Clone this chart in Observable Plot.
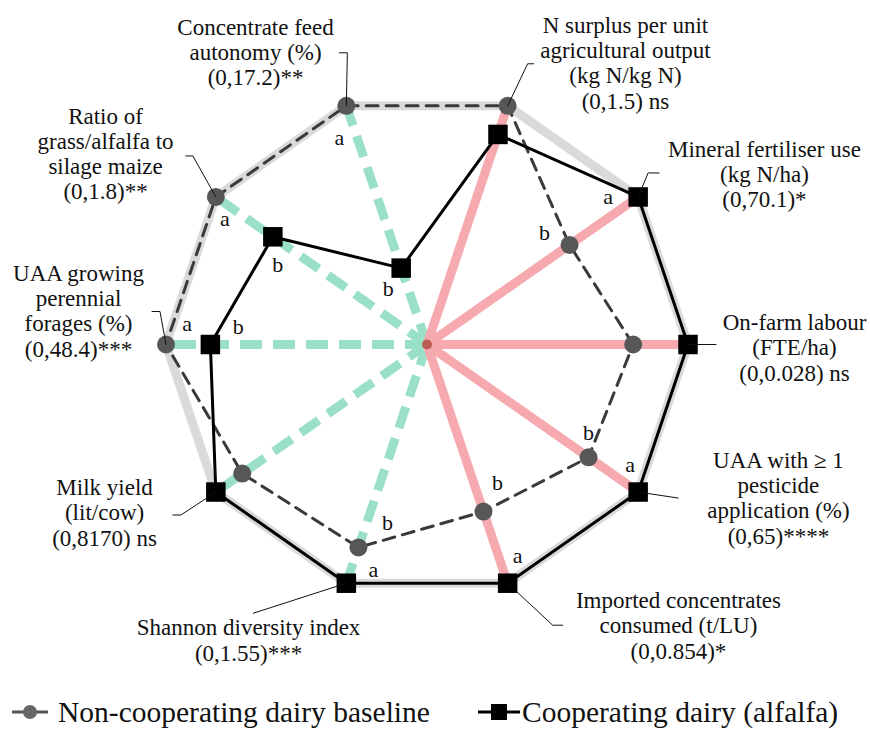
<!DOCTYPE html>
<html>
<head>
<meta charset="utf-8">
<script src="https://cdn.jsdelivr.net/npm/d3@7"></script>
<script src="https://cdn.jsdelivr.net/npm/@observablehq/plot@0.6"></script>
<style>
  body { margin: 0; background: #fff; font-family: 'Liberation Serif', serif; }
  svg text, svg tspan { font-family: 'Liberation Serif', serif !important; }
  #legend { position: relative; width: 870px; height: 44px; }
  .item { position: absolute; top: 6px; height: 42px; display: flex; align-items: center;
          font-family: 'Liberation Serif', serif; font-size: 29.5px; color: #111; white-space: nowrap; }
  .item svg { margin-right: 6px; }
</style>
</head>
<body>
<div id="chart"></div>
<div id="legend"></div>
<script>
// Indicators, counter-clockwise from the right-hand axis; (0,max) is each axis range
const indicators = [
  "On-farm labour\n(FTE/ha)\n(0,0.028) ns",
  "Mineral fertiliser use\n(kg N/ha)\n(0,70.1)*",
  "N surplus per unit\nagricultural output\n(kg N/kg N)\n(0,1.5) ns",
  "Concentrate feed\nautonomy (%)\n(0,17.2)**",
  "Ratio of\ngrass/alfalfa to\nsilage maize\n(0,1.8)**",
  "UAA growing\nperennial\nforages (%)\n(0,48.4)***",
  "Milk yield\n(lit/cow)\n(0,8170) ns",
  "Shannon diversity index\n(0,1.55)***",
  "Imported concentrates\nconsumed (t/LU)\n(0,0.854)*",
  "UAA with \u2265 1\npesticide\napplication (%)\n(0,65)****"
];
const indicatorType = ["pressure", "pressure", "pressure", "benefit", "benefit",
                       "benefit", "benefit", "benefit", "pressure", "pressure"];

// Values scaled to each axis maximum (0..1)
const baseline = [0.79, 0.675, 1, 1, 1, 1, 0.875, 0.85, 0.70, 0.765];
const alfalfa  = [1, 1, 0.88, 0.32, 0.73, 0.83, 1, 1, 1, 1];

// Significance groups
const baselineLetters = ["", "b", "", "a", "a", "a", "", "b", "b", "b"];
const alfalfaLetters  = ["", "a", "", "b", "b", "b", "", "a", "a", "a"];

const seriesNames = ["Non-cooperating dairy baseline", "Cooperating dairy (alfalfa)"];

// ---- layout (pixels) ----
const W = 870, H = 685, CX = 426.5, CY = 344, RX = 261, RY = 251;
const FONT = "'Liberation Serif', serif";
const PINK = "#f6aab0", GREEN = "#9ae0c8";

// label block offsets from each axis tip: [centre x, last baseline y]
const labelOffset = [[106.5, 36], [126.3, 10.5], [117.8, 2.7], [-90.8, -20.3], [-110.3, 2.5],
                     [-87.5, 12], [-111.3, 53.5], [-97.8, 77.3], [170.8, 75.3], [140.3, 51.5]];
// leader line vertices, relative to each axis tip
const leaderPath = [
  [[0, 0], [28, 0]],
  [[0, 0], [10, -24], [21, -24]],
  [[0, 0], [20, -42], [26, -42]],
  [[0, 0], [1, -53], [-7, -53]],
  [[0, 0], [-23, -41], [-30, -41]],
  [[0, 0], [-6, -33], [-14, -33]],
  [[0, 0], [-35, 23], [-43, 23]],
  [[0, 0], [-93, 30]],
  [[0, 0], [45, 42], [55, 42]],
  [[0, 0], [40, 6]]
];
// letter offsets from the marker they annotate
const baselineLetterOffset = [[0, 0], [-25, -12], [0, 0], [-7, 32], [9, 22], [21, -21], [0, 0], [29, -24], [14, -29], [0, -24]];
const alfalfaLetterOffset  = [[0, 0], [-30, 0], [0, 0], [-13, 21], [5, 28], [28, -18], [0, 0], [27, -13], [10, -27], [-8, -27]];

const n = indicators.length;
const ang = i => i * 2 * Math.PI / n;
const polar = (i, r) => ({x: r * Math.cos(ang(i)), y: r * Math.sin(ang(i))});
const shift = (p, [dx, dy]) => ({x: p.x + dx / RX, y: p.y - dy / RY});

const ring = indicators.map((_, i) => polar(i, 1));
const spokes = indicators.map((_, i) => ({type: indicatorType[i], ...polar(i, 1)}));
const basePts = baseline.map((v, i) => ({i, ...polar(i, v)}));
const alfPts = alfalfa.map((v, i) => ({i, ...polar(i, v)}));

const labels = indicators.map((t, i) => ({text: t, ...shift(polar(i, 1), labelOffset[i])}));
const leaders = leaderPath.flatMap((path, i) => path.map(o => ({i, ...shift(polar(i, 1), o)})));
const letters = [
  ...basePts.map((p, i) => ({text: baselineLetters[i], ...shift(p, baselineLetterOffset[i])})),
  ...alfPts.map((p, i) => ({text: alfalfaLetters[i], ...shift(p, alfalfaLetterOffset[i])}))
].filter(d => d.text);

const chart = Plot.plot({
  width: W,
  height: H,
  margin: 0,
  style: {fontFamily: FONT},
  x: {domain: [-CX / RX, (W - CX) / RX], range: [0, W], axis: null},
  y: {domain: [-(H - CY) / RY, CY / RY], range: [H, 0], axis: null},
  marks: [
    // outer ring at the axis maxima
    Plot.line(ring, {x: "x", y: "y", curve: "linear-closed", stroke: "#dadada", strokeWidth: 9}),
    // spokes
    Plot.link(spokes.filter(d => d.type === "benefit"),
      {x1: () => 0, y1: () => 0, x2: "x", y2: "y", stroke: GREEN, strokeWidth: 9, strokeDasharray: "22,11"}),
    Plot.link(spokes.filter(d => d.type === "pressure"),
      {x1: () => 0, y1: () => 0, x2: "x", y2: "y", stroke: PINK, strokeWidth: 9}),
    Plot.dot([0], {x: () => 0, y: () => 0, r: 5, fill: "#b04a3e", fillOpacity: 0.8}),
    // series outlines
    Plot.line(basePts, {x: "x", y: "y", curve: "linear-closed", stroke: "#3a3a3a",
      strokeWidth: 3, strokeDasharray: "12,8"}),
    Plot.line(alfPts, {x: "x", y: "y", curve: "linear-closed", stroke: "#000", strokeWidth: 3}),
    // markers
    Plot.dot(basePts, {x: "x", y: "y", r: 9, fill: "#575757"}),
    Plot.dot(alfPts, {x: "x", y: "y", r: 11, symbol: "square", fill: "#000"}),
    // leader lines and axis labels
    Plot.line(leaders, {x: "x", y: "y", z: "i", stroke: "#111", strokeWidth: 1}),
    Plot.text(labels, {x: "x", y: "y", text: "text", lineAnchor: "bottom", textAnchor: "middle",
      fontSize: 23, lineHeight: 1.09, fontFamily: FONT, fill: "#111"}),
    Plot.text(letters, {x: "x", y: "y", text: "text", fontSize: 22, fontFamily: FONT, fill: "#111"})
  ]
});
document.getElementById("chart").append(chart);

// legend
const legend = document.getElementById("legend");
legend.innerHTML = `
  <div class="item" style="left:10px">
    <svg width="42" height="20"><line x1="2" y1="10" x2="38" y2="10" stroke="#555" stroke-width="3"/>
    <circle cx="20" cy="10" r="7" fill="#666"/></svg><span>${seriesNames[0]}</span></div>
  <div class="item" style="left:476px">
    <svg width="46" height="22"><line x1="2" y1="11" x2="44" y2="11" stroke="#000" stroke-width="3"/>
    <rect x="15" y="3" width="16" height="16" fill="#000"/></svg><span style="margin-left:-6px">${seriesNames[1]}</span></div>`;
</script>
</body>
</html>
